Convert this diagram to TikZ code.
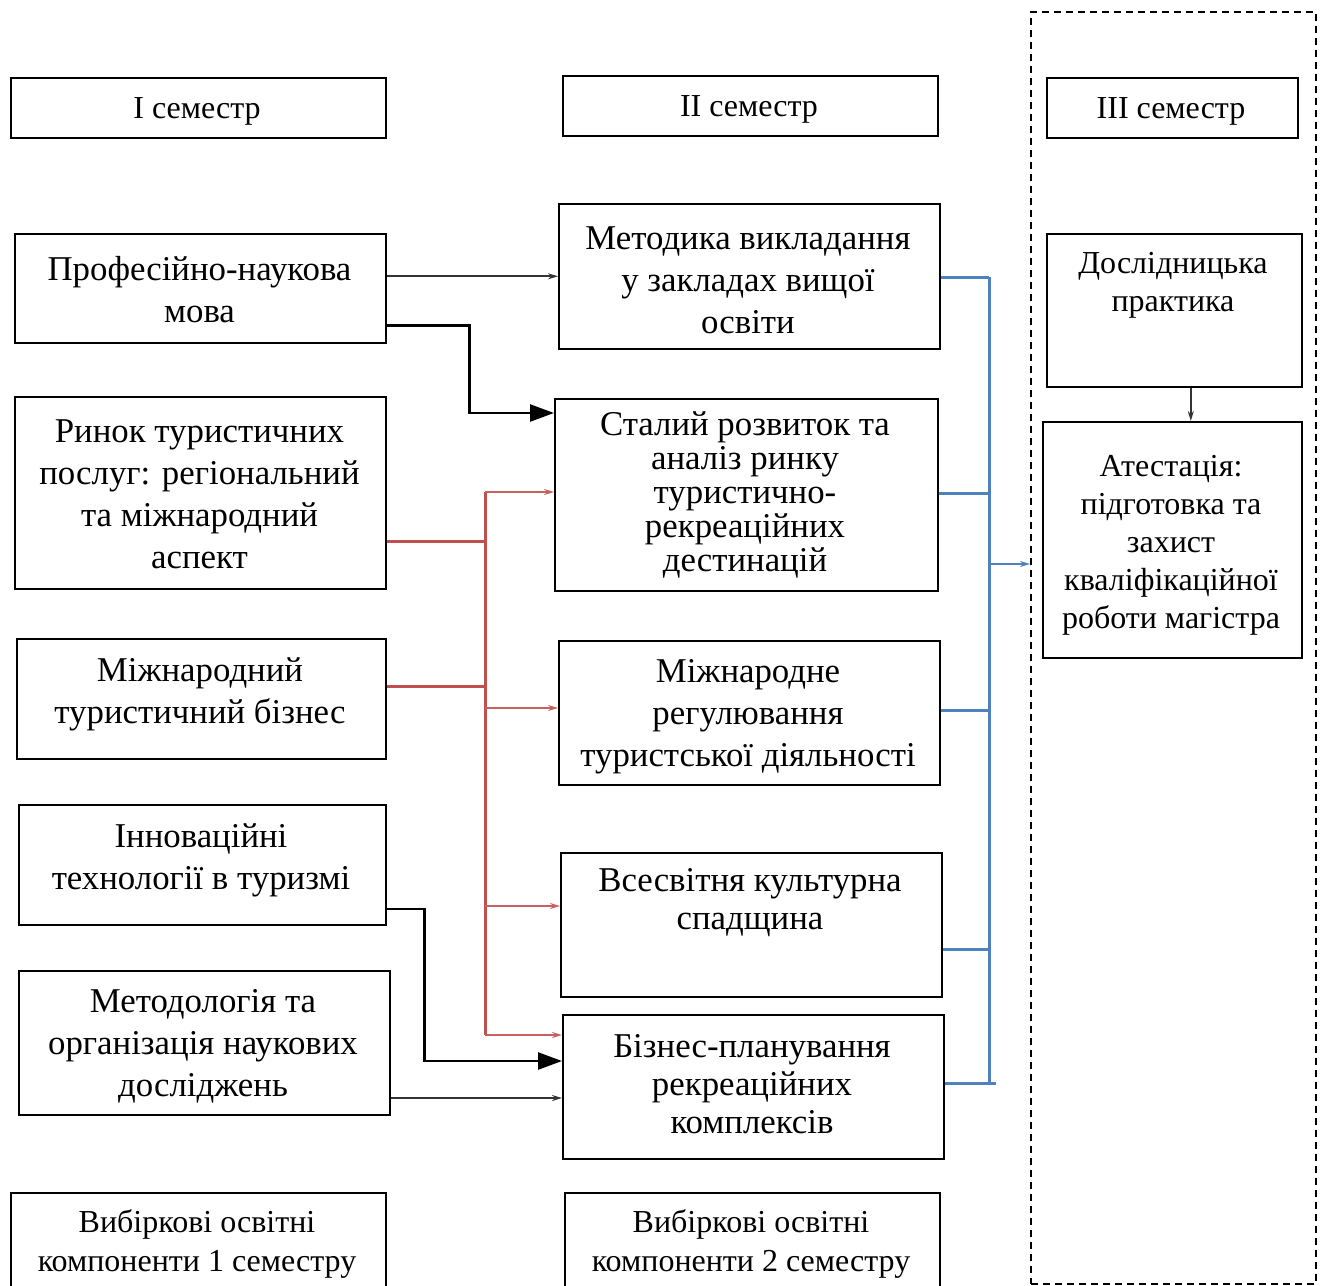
\documentclass[tikz,border=0pt]{standalone}
\usepackage{fontspec}
\setmainfont{Liberation Serif}
\usetikzlibrary{arrows.meta}
\definecolor{redline}{RGB}{192,80,77}
\definecolor{blueline}{RGB}{79,129,189}
\begin{document}
\begin{tikzpicture}[x=1pt,y=-1pt,
  box/.style={draw, line width=1.6pt, inner sep=0pt, anchor=north west},
  frame/.style={draw, line width=1.5pt, dash pattern=on 7pt off 5pt, inner sep=0pt, anchor=north west},
  txtA/.style={align=center, inner sep=0pt, yshift=-4pt, font=\fontsize{34.8}{42}\selectfont},
  txtB/.style={align=center, inner sep=0pt, yshift=-4pt, font=\fontsize{32}{38}\selectfont},
  smallarrow/.style={-{Stealth[length=10pt,width=6pt]}},
  bigarrow/.style={line width=2.6pt, -{Triangle[length=24pt,width=17pt]}},
  thinblack/.style={line width=1.8pt, draw=black!80},
  redmain/.style={line width=3pt, draw=redline},
  redbranch/.style={line width=2pt, draw=redline!90, smallarrow},
  blueln/.style={line width=3pt, draw=blueline},
]
\useasboundingbox (0,0) rectangle (1322,1285);

% frame
\node[frame, minimum width=285pt, minimum height=1272pt] (fr) at (1030,11) {};

% column 1 boxes
\node[box, minimum width=375pt, minimum height=60pt] (h1) at (10,77) {};
\node[box, minimum width=371pt, minimum height=109pt] (prof) at (14,233) {};
\node[box, minimum width=371pt, minimum height=192pt] (rynok) at (14,396) {};
\node[box, minimum width=369pt, minimum height=120pt] (mizhb) at (16,638) {};
\node[box, minimum width=367pt, minimum height=120pt] (innov) at (18,804) {};
\node[box, minimum width=371pt, minimum height=144pt] (metod) at (18,970) {};
\node[box, minimum width=375pt, minimum height=110pt] (vyb1) at (10,1192) {};

% column 2 boxes
\node[box, minimum width=375pt, minimum height=60pt] (h2) at (562,75) {};
\node[box, minimum width=381pt, minimum height=145pt] (metvyk) at (558,203) {};
\node[box, minimum width=383pt, minimum height=192pt] (stalyi) at (554,398) {};
\node[box, minimum width=381pt, minimum height=144pt] (mizhreg) at (558,640) {};
\node[box, minimum width=381pt, minimum height=144pt] (vses) at (560,852) {};
\node[box, minimum width=381pt, minimum height=144pt] (biznes) at (562,1014) {};
\node[box, minimum width=375pt, minimum height=110pt] (vyb2) at (564,1192) {};

% column 3 boxes
\node[box, minimum width=251pt, minimum height=60pt] (h3) at (1046,77) {};
\node[box, minimum width=255pt, minimum height=153pt] (dosl) at (1046,233) {};
\node[box, minimum width=259pt, minimum height=236pt] (atest) at (1042,421) {};

% texts
\node[txtB] (th1) at (197,107) {І семестр};
\node[txtB] (th2) at (749,105) {ІІ семестр};
\node[txtB] (th3) at (1171,107) {ІІІ семестр};
\node[txtA] (tprof) at (199.5,286) {Професійно-наукова\\мова};
\node[txtA] (trynok) at (199.5,490) {Ринок туристичних\\послуг: регіональний\\та міжнародний\\аспект};
\node[txtA] (tmizhb) at (200,690) {Міжнародний\\туристичний бізнес};
\node[txtA] (tinnov) at (201,856) {Інноваційні\\технології в туризмі};
\node[txtA] (tmetod) at (203,1042) {Методологія та\\організація наукових\\досліджень};
\node[txtB, font=\fontsize{32}{39}\selectfont] (tvyb1) at (197,1240) {Вибіркові освітні\\компоненти 1 семестру};
\node[txtA] (tmetvyk) at (748,276) {Методика викладання\\у закладах вищої\\освіти};
\node[txtA, font=\fontsize{34.8}{34}\selectfont] (tstalyi) at (745,491) {Сталий розвиток та\\аналіз ринку\\туристично-\\рекреаційних\\дестинацій};
\node[txtA] (tmizhreg) at (748,713) {Міжнародне\\регулювання\\туристської діяльності};
\node[txtA, font=\fontsize{34.8}{38}\selectfont] (tvses) at (750,899) {Всесвітня культурна\\спадщина};
\node[txtA, font=\fontsize{34.8}{38}\selectfont] (tbiznes) at (752,1080) {Бізнес-планування\\рекреаційних\\комплексів};
\node[txtB, font=\fontsize{32}{39}\selectfont] (tvyb2) at (751,1240) {Вибіркові освітні\\компоненти 2 семестру};
\node[txtB] (tdosl) at (1173,281) {Дослідницька\\практика};
\node[txtB] (tatest) at (1171,541) {Атестація:\\підготовка та\\захист\\кваліфікаційної\\роботи магістра};

% black connectors
\draw[thinblack, smallarrow] (prof.east |- metvyk.west) -- (metvyk.west);
\draw[bigarrow] ([yshift=18pt]prof.south east) -- ++(83,0) |- ([yshift=-15pt]stalyi.north west);
\draw[bigarrow] (innov.east |- 0,909) -- ++(38,0) |- (biznes.west |- 0,1061);
\draw[thinblack, smallarrow] (metod.east |- 0,1098) -- (biznes.west |- 0,1098);
\draw[thinblack, line width=1.4pt, smallarrow] ([xshift=16.5pt]dosl.south) -- ([xshift=16.5pt]dosl.south |- atest.north);

% red connectors
\coordinate (rtop) at (485,492);
\coordinate (rbot) at (485,1035);
\draw[redmain] (rtop) -- (rbot);
\draw[redmain] (rynok.east |- 0,541) -- (rtop |- 0,541);
\draw[redmain] (mizhb.east |- 0,686) -- (rtop |- 0,686);
\draw[redbranch] (rtop) -- (stalyi.west |- rtop);
\draw[redbranch] (rtop |- 0,708) -- (mizhreg.west |- 0,708);
\draw[redbranch] (rtop |- 0,906) -- (vses.west |- 0,906);
\draw[redbranch] (rbot) -- (biznes.west |- rbot);

% blue connectors
\coordinate (btop) at (989,277);
\coordinate (bbot) at (989,1083);
\draw[blueln] (btop) -- (bbot);
\draw[blueln] (metvyk.east |- btop) -- (btop);
\draw[blueln] (stalyi.east |- 0,493) -- (btop |- 0,493);
\draw[blueln] (mizhreg.east |- 0,710) -- (btop |- 0,710);
\draw[blueln] (vses.east |- 0,949) -- (btop |- 0,949);
\draw[blueln] (biznes.east |- bbot) -- ++(51,0);
\draw[blueln, line width=2pt, smallarrow] (btop |- 0,564) -- (fr.west |- 0,564);
\end{tikzpicture}
\end{document}
